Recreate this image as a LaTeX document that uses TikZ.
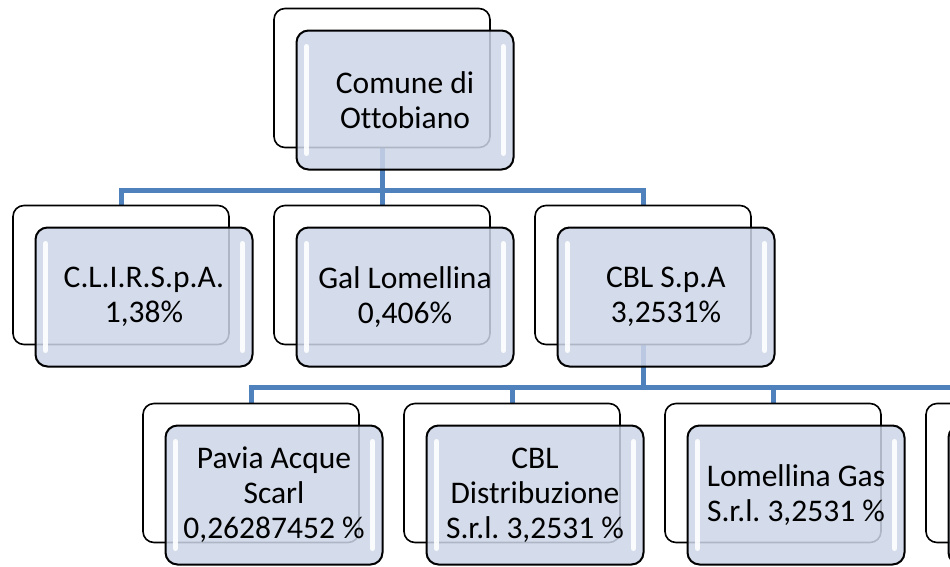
\documentclass[tikz,border=0pt]{standalone}
\usepackage{fontspec}
\setmainfont{Carlito}[Ligatures=NoCommon]
\usetikzlibrary{positioning}

\pgfdeclarelayer{background}
\pgfsetlayers{background,main}

\definecolor{linkblue}{RGB}{79,129,189}
\definecolor{boxfill}{RGB}{205,214,232}

\tikzset{
    backbox/.style={draw=black, line width=1.6pt, fill=white, rounded corners=11pt,
        minimum width=216pt, minimum height=139pt, inner sep=0pt},
    frontbox/.style={draw=black, line width=2pt, fill=boxfill, fill opacity=0.85, text opacity=1,
        rounded corners=12pt, minimum width=217pt, minimum height=139pt, inner sep=0pt,
        align=center, font=\fontsize{31.5}{35}\selectfont,
        path picture={
            \draw[white, line width=5pt, line cap=round, opacity=0.9]
                ([xshift=10pt,yshift=-16pt]path picture bounding box.north west) --
                ([xshift=10pt,yshift=16pt]path picture bounding box.south west);
            \draw[white, line width=5pt, line cap=round, opacity=0.9]
                ([xshift=-10pt,yshift=-16pt]path picture bounding box.north east) --
                ([xshift=-10pt,yshift=16pt]path picture bounding box.south east);
        }},
    link/.style={draw=linkblue, line width=5pt}
}

% back box (name b) and front box (name) with its text
\newcommand{\orgbox}[4]{%
    \node[backbox] (#1b) at (#2,#3) {};
    \node[frontbox] (#1) at (#2+23,#3+22) {#4};
}

\frenchspacing
\begin{document}
\begin{tikzpicture}[x=1pt, y=-1pt]
    \useasboundingbox (0,0) rectangle (950,566);
    \clip (0,0) rectangle (950,566);
    \coordinate (bus1) at (0,190);
    \coordinate (bus2) at (0,387);
    % Top
    \orgbox{comune}{382}{78}{Comune di\\Ottobiano}
    % Second row
    \orgbox{clir}{121}{275}{C.L.I.R.S.p.A.\\1,38\%}
    \orgbox{gal}{382}{275}{Gal Lomellina\\0,406\%}
    \orgbox{cbl}{643}{275}{CBL S.p.A\\3,2531\%}
    % Third row
    \orgbox{pavia}{251}{473}{Pavia Acque\\Scarl\\0,26287452 \%}
    \orgbox{distrib}{512}{473}{CBL\\Distribuzione\\S.r.l. 3,2531 \%}
    \orgbox{gas}{773}{473}{Lomellina Gas\\S.r.l. 3,2531 \%}
    \orgbox{altra}{1034}{473}{}
    % Connectors
    \begin{pgfonlayer}{background}
        \fill[white] (0,0) rectangle (950,566);
        \draw[link] (comuneb.south) -- (comuneb.south |- bus1);
        \draw[link] (clirb.north) |- (cblb.north |- bus1) -- (cblb.north);
        \draw[link] (galb.north) -- (galb.north |- bus1);
        \draw[link] (cblb.south) -- (cblb.south |- bus2);
        \draw[link] (paviab.north) |- (altrab.north |- bus2) -- (altrab.north);
        \foreach \n in {distrib,gas} {
            \draw[link] (\n b.north) -- (\n b.north |- bus2);
        }
    \end{pgfonlayer}
\end{tikzpicture}
\end{document}
